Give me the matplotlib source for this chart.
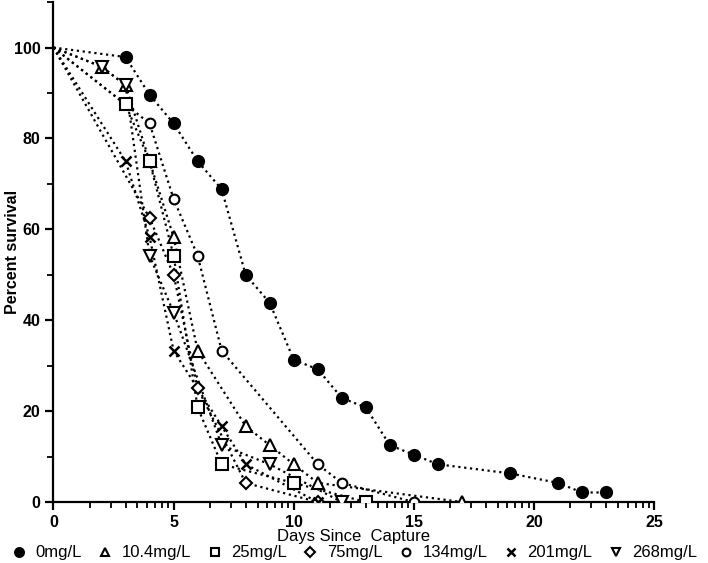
import matplotlib
matplotlib.use("Agg")
import matplotlib.pyplot as plt
import numpy as np

plt.rcParams['font.family'] = ['Liberation Sans', 'DejaVu Sans']

# survival data (day, percent survival)
days_0 = [0, 3, 4, 5, 6, 7, 8, 9, 10, 11, 12, 13, 14, 15, 16, 19, 21, 22, 23]
surv_0 = [100, 97.9, 89.6, 83.3, 75, 68.8, 50, 43.8, 31.3, 29.2, 22.9, 20.8,
          12.5, 10.4, 8.3, 6.3, 4.2, 2.1, 2.1]

days_10 = [0, 2, 3, 4, 5, 6, 8, 9, 10, 11, 17]
surv_10 = [100, 95.8, 91.7, 75, 58.3, 33.3, 16.7, 12.5, 8.3, 4.2, 0]

days_25 = [0, 3, 4, 5, 6, 7, 10, 13]
surv_25 = [100, 87.5, 75, 54.2, 20.8, 8.3, 4.2, 0]

days_75 = [0, 4, 5, 6, 8, 11]
surv_75 = [100, 62.5, 50, 25, 4.2, 0]

days_134 = [0, 4, 5, 6, 7, 11, 12, 15]
surv_134 = [100, 83.3, 66.7, 54.2, 33.3, 8.3, 4.2, 0]

days_201 = [0, 3, 4, 5, 7, 8, 11]
surv_201 = [100, 75, 58.3, 33.3, 16.7, 8.3, 0]

days_268 = [0, 2, 3, 4, 5, 7, 9, 12]
surv_268 = [100, 95.8, 91.7, 54.2, 41.7, 12.5, 8.3, 0]

labels = ['0mg/L', '10.4mg/L', '25mg/L', '75mg/L', '134mg/L', '201mg/L', '268mg/L']

series = [(days_0, surv_0, 'o', True, 8),
          (days_10, surv_10, '^', False, 8),
          (days_25, surv_25, 's', False, 8),
          (days_75, surv_75, 'D', False, 6),
          (days_134, surv_134, 'o', False, 7),
          (days_201, surv_201, 'x', False, 7),
          (days_268, surv_268, 'v', False, 8)]

fig = plt.figure(figsize=(7.08, 5.63), dpi=100)
ax = fig.add_axes([0.0755, 0.1083, 0.8485, 0.888])

handles = []
for (d, s, m, filled, ms), lab in zip(series, labels):
    ax.plot(d, s, linestyle=':', color='black', linewidth=1.6, zorder=2)
    fc = 'black' if filled else 'white'
    mew = 1.5 if m != 'x' else 1.8
    ax.plot(d[1:], s[1:], linestyle='none', marker=m, markersize=ms,
            markerfacecolor=fc, markeredgecolor='black', markeredgewidth=mew,
            zorder=3)
    h, = ax.plot([], [], linestyle='none', marker=m, markersize=ms * 0.8,
                 markerfacecolor=fc, markeredgecolor='black',
                 markeredgewidth=mew, label=lab)
    handles.append(h)

ax.set_xlim(0, 25)
ax.set_ylim(0, 110)
ax.set_xticks([0, 5, 10, 15, 20, 25])
ax.set_yticks([0, 20, 40, 60, 80, 100])
# prism-style log-spaced minor ticks within each 5-day interval
minor_x = [b + 5 * np.log10(k) for b in range(0, 25, 5) for k in range(2, 10)]
ax.set_xticks(minor_x, minor=True)
ax.set_yticks([10, 30, 50, 70, 90, 110], minor=True)

for sp in ['top', 'right']:
    ax.spines[sp].set_visible(False)
for sp in ['left', 'bottom']:
    ax.spines[sp].set_linewidth(1.6)

ax.tick_params(which='major', direction='out', length=6, width=1.6,
               labelsize=11.5)
ax.tick_params(which='minor', direction='out', length=4, width=1.3)
for t in ax.get_xticklabels() + ax.get_yticklabels():
    t.set_fontweight('bold')

ax.set_ylabel('Percent survival', fontsize=11.5, fontweight='bold')
ax.yaxis.set_label_coords(-0.056, 0.5)
ax.set_xlabel('Days Since  Capture', fontsize=12)
ax.xaxis.set_label_coords(0.5, -0.054)

fig.legend(handles=handles, loc='lower center', bbox_to_anchor=(0.5, -0.022),
           ncol=7, frameon=False, fontsize=12, handlelength=1.0,
           handletextpad=0.5, columnspacing=0.9)

fig.savefig('out.png', dpi=100)
